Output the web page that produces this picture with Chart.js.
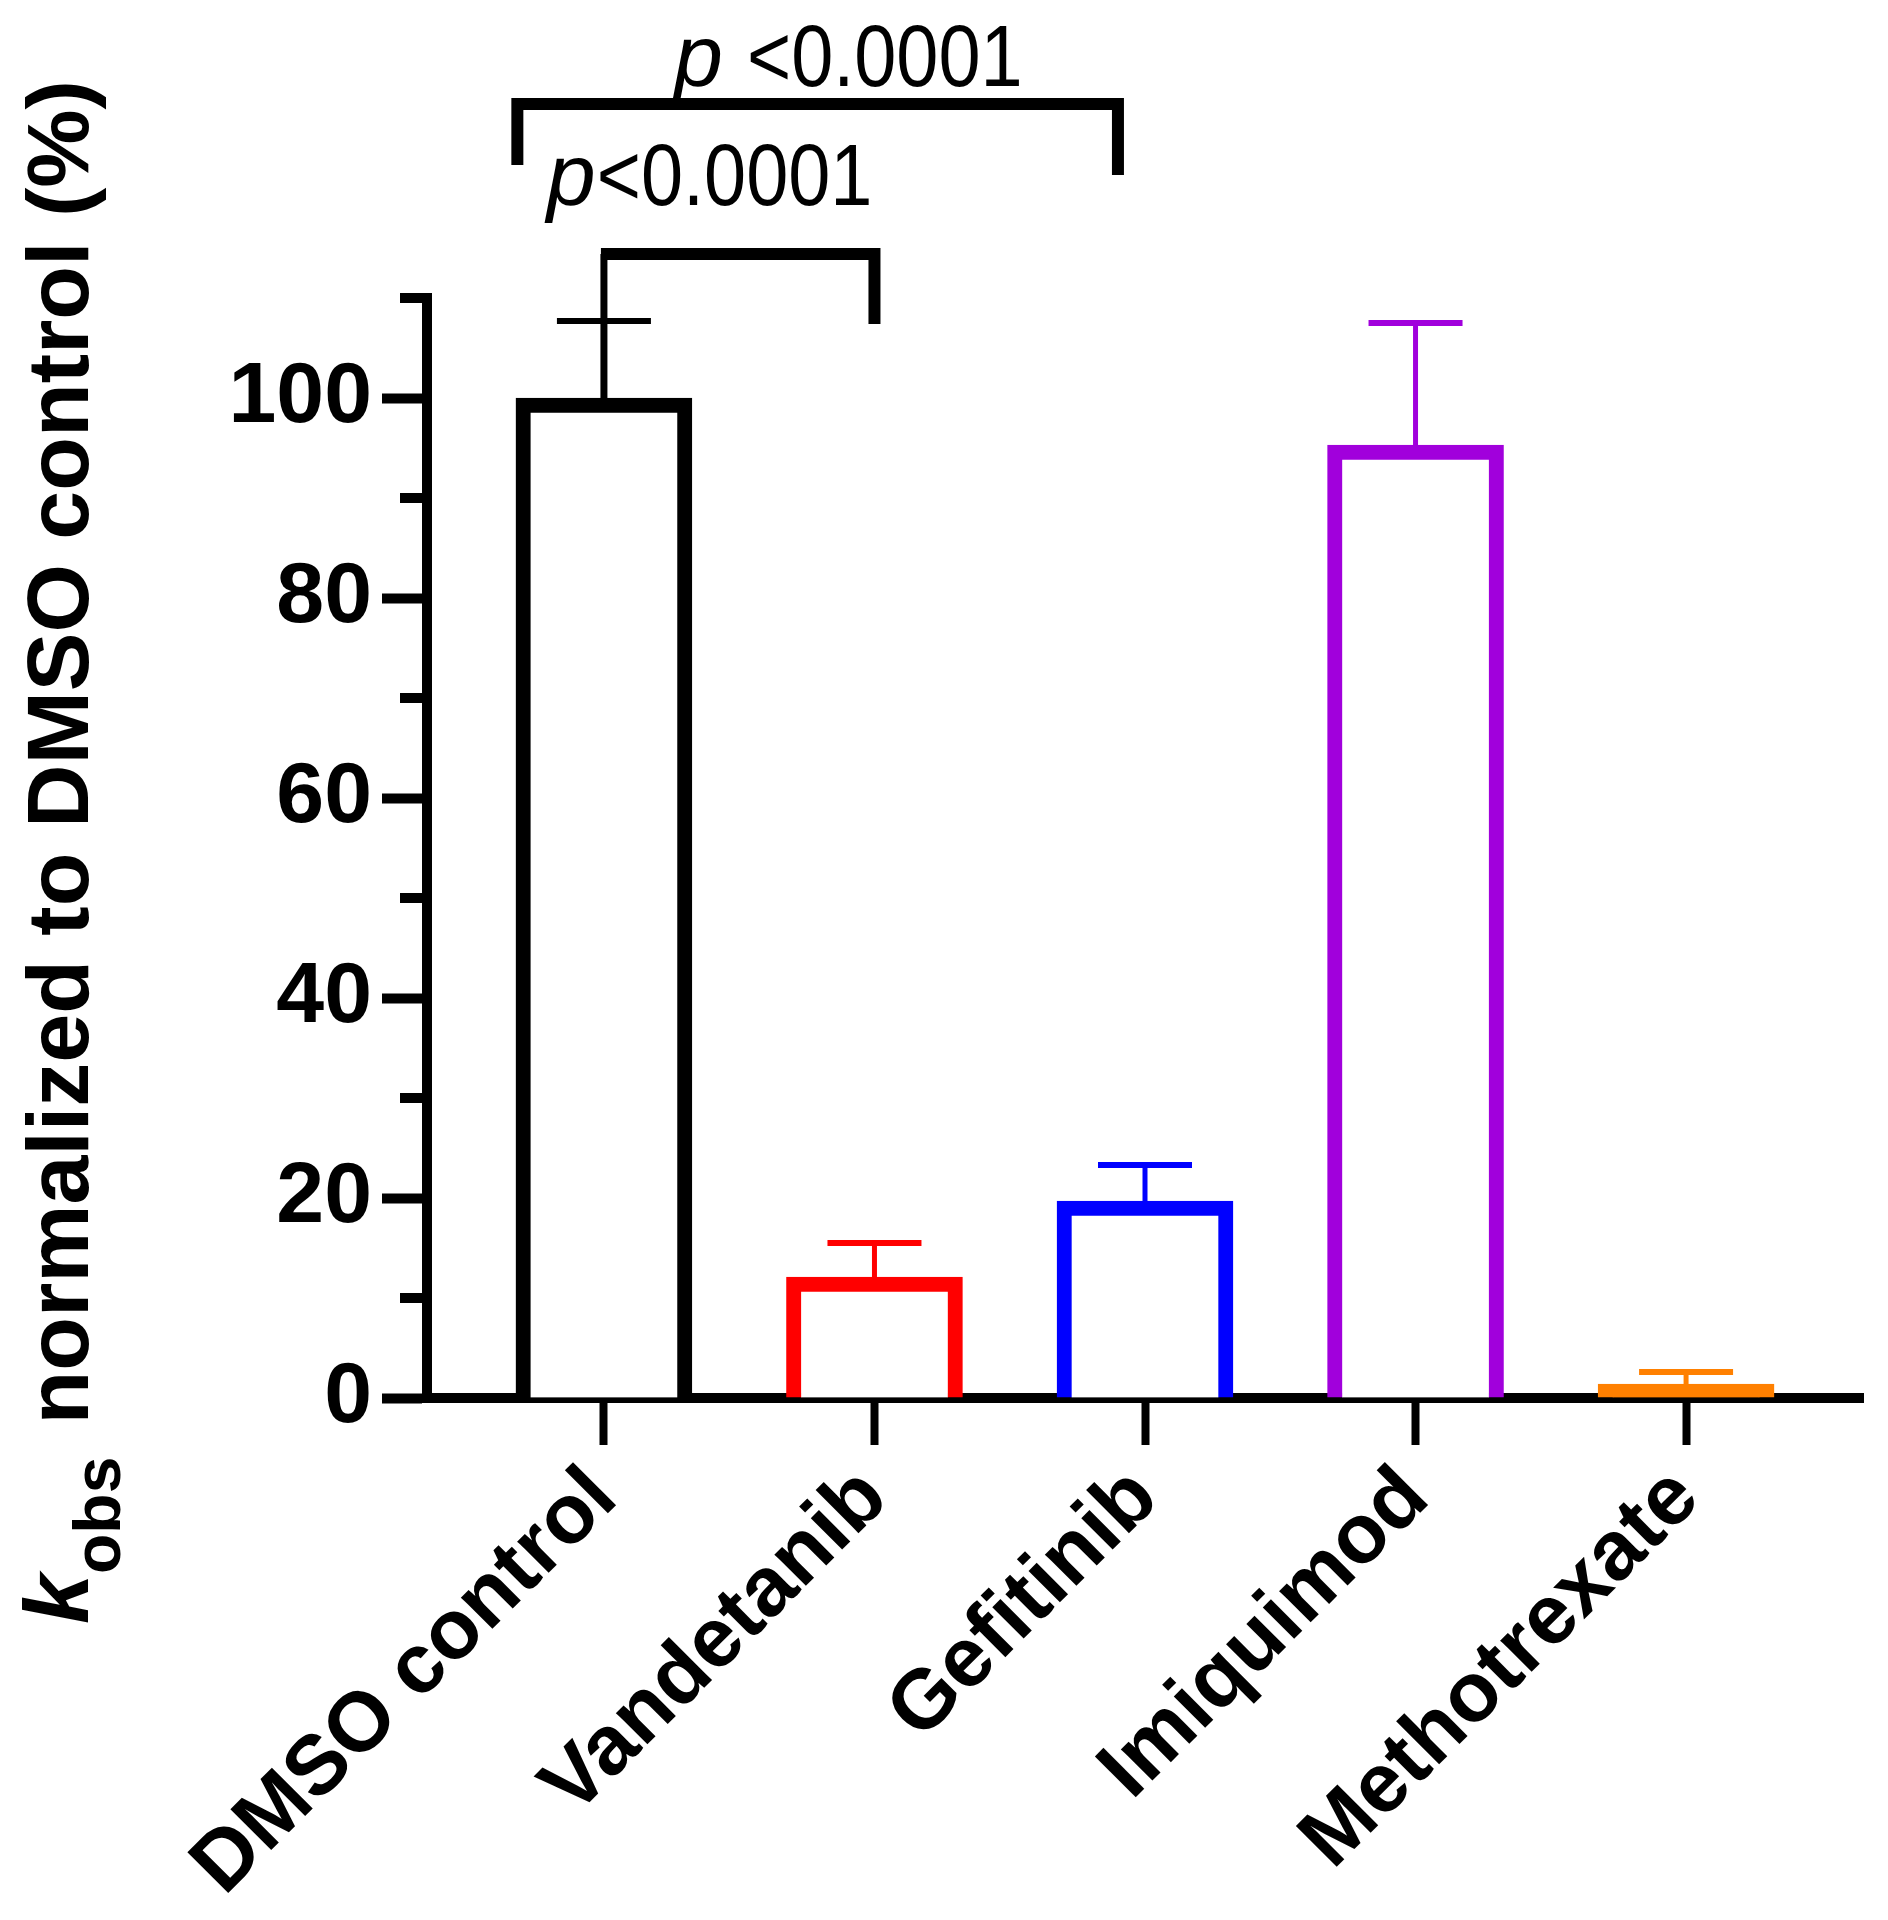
<!DOCTYPE html>
<html>
<head>
<meta charset="utf-8">
<title>kobs normalized to DMSO control</title>
<script src="https://cdn.jsdelivr.net/npm/chart.js@4.4.0/dist/chart.umd.min.js"></script>
<style>
  html, body { margin: 0; padding: 0; background: #fff; }
</style>
</head>
<body>
<canvas id="myChart" width="1888" height="1920"></canvas>
<script>
'use strict';

const categories = ["DMSO control", "Vandetanib", "Gefitinib", "Imiquimod", "Methotrexate"];
const means = [100, 12.1, 19.7, 95.3, 1.4];
const errors = [7.7, 3.4, 3.6, 12.2, 1.2];
const barColors = ["#000000", "#ff0000", "#0000ff", "#a100dc", "#ff8000"];
const yMajorTicks = [0, 20, 40, 60, 80, 100];
const yMinorTicks = [10, 30, 50, 70, 90, 110];
const pLabels = ["<0.0001", "<0.0001"];

const FONT = '"Liberation Sans", Arial, Helvetica, sans-serif';

// error bars, brackets, minor ticks and the axis title
const extrasPlugin = {
  id: 'extras',
  afterDatasetsDraw(chart) {
    const ctx = chart.ctx;
    const yScale = chart.scales.y;
    const meta = chart.getDatasetMeta(0);
    ctx.save();
    ctx.lineCap = 'butt';
    meta.data.forEach((bar, i) => {
      const top = yScale.getPixelForValue(means[i]);
      const cap = yScale.getPixelForValue(means[i] + errors[i]);
      ctx.strokeStyle = barColors[i];
      ctx.lineWidth = 5;
      ctx.beginPath();
      ctx.moveTo(bar.x, top);
      ctx.lineTo(bar.x, cap);
      ctx.stroke();
      ctx.lineWidth = 6;
      ctx.beginPath();
      ctx.moveTo(bar.x - 47, cap);
      ctx.lineTo(bar.x + 47, cap);
      ctx.stroke();
    });
    ctx.restore();
  },
  afterDraw(chart) {
    const ctx = chart.ctx;
    const x = chart.scales.x;
    const y = chart.scales.y;
    ctx.save();
    ctx.strokeStyle = '#000';
    ctx.fillStyle = '#000';

    // minor y ticks
    ctx.lineWidth = 10;
    yMinorTicks.forEach(v => {
      const py = y.getPixelForValue(v);
      ctx.beginPath();
      ctx.moveTo(y.right - 27, py);
      ctx.lineTo(y.right, py);
      ctx.stroke();
    });

    // lower bracket: DMSO vs Vandetanib
    ctx.lineWidth = 7;
    ctx.beginPath();
    ctx.moveTo(x.getPixelForValue(0), y.getPixelForValue(100));
    ctx.lineTo(x.getPixelForValue(0), y.getPixelForValue(114.4));
    ctx.stroke();
    ctx.lineWidth = 12;
    ctx.lineJoin = 'miter';
    ctx.beginPath();
    ctx.moveTo(x.getPixelForValue(0) - 3, y.getPixelForValue(114.4));
    ctx.lineTo(x.getPixelForValue(1), y.getPixelForValue(114.4));
    ctx.lineTo(x.getPixelForValue(1), y.getPixelForValue(107.4));
    ctx.stroke();

    // upper bracket: DMSO vs Gefitinib
    ctx.beginPath();
    ctx.moveTo(x.getPixelForValue(-0.32), y.getPixelForValue(123.3));
    ctx.lineTo(x.getPixelForValue(-0.32), y.getPixelForValue(129.4));
    ctx.lineTo(x.getPixelForValue(1.9), y.getPixelForValue(129.4));
    ctx.lineTo(x.getPixelForValue(1.9), y.getPixelForValue(122.3));
    ctx.stroke();

    drawP(ctx, x.getPixelForValue(-0.211), y.getPixelForValue(119.3), 1, pLabels[0]);
    drawP(ctx, x.getPixelForValue(0.259), y.getPixelForValue(131.2), 24, pLabels[1]);

    // y axis title with italic k and subscript obs
    ctx.translate(88, 1624);
    ctx.rotate(-Math.PI / 2);
    ctx.textBaseline = 'alphabetic';
    ctx.textAlign = 'left';
    let pos = 0;
    ctx.font = 'italic bold 90px ' + FONT;
    ctx.fillText('k', pos, 0);
    pos += ctx.measureText('k').width;
    ctx.font = 'bold 66px ' + FONT;
    ctx.fillText('obs', pos, 32);
    pos += ctx.measureText('obs').width + 32;
    ctx.font = 'bold 88px ' + FONT;
    ctx.fillText('normalized to DMSO control (%)', pos, 0);
    ctx.restore();
  }
};

function drawP(ctx, px, py, gap, rest) {
  ctx.save();
  ctx.textAlign = 'left';
  ctx.textBaseline = 'alphabetic';
  ctx.font = 'italic 88px ' + FONT;
  ctx.fillText('p', px, py);
  const pw = ctx.measureText('p').width;
  ctx.translate(px + pw + gap, py);
  ctx.scale(0.86, 1);
  ctx.font = '88px ' + FONT;
  ctx.fillText(rest, 0, 0);
  ctx.restore();
}

new Chart(document.getElementById('myChart'), {
  type: 'bar',
  data: {
    datasets: [{
      data: categories.map((c, i) => ({ x: i, y: means[i] })),
      backgroundColor: ["#ffffff", "#ffffff", "#ffffff", "#ffffff", "#ff8000"],
      borderColor: barColors,
      borderWidth: 15,
      borderSkipped: 'start',
      barThickness: 176
    }]
  },
  options: {
    responsive: false,
    animation: false,
    devicePixelRatio: 1,
    layout: { padding: { top: 298, right: 25, left: 0, bottom: 0 } },
    plugins: { legend: { display: false }, tooltip: { enabled: false } },
    scales: {
      x: {
        type: 'linear',
        min: -0.654,
        max: 4.654,
        offset: false,
        z: 1,
        afterBuildTicks: (scale) => { scale.ticks = categories.map((c, i) => ({ value: i })); },
        afterFit: (scale) => { scale.height = 522; },
        ticks: {
          autoSkip: false,
          minRotation: 45,
          maxRotation: 45,
          padding: 4,
          color: '#000',
          font: { family: FONT, size: 84, weight: 'bold' },
          callback: (v) => categories[v]
        },
        grid: { display: true, offset: false, drawOnChartArea: false, drawTicks: true, tickLength: 47, tickWidth: 8, tickColor: '#000' },
        border: { display: true, color: '#000', width: 10 }
      },
      y: {
        min: 0,
        max: 110,
        z: 1,
        afterBuildTicks: (scale) => { scale.ticks = yMajorTicks.map(v => ({ value: v })); },
        afterFit: (scale) => { scale.width = 427; },
        ticks: {
          padding: 10,
          color: '#000',
          font: { family: FONT, size: 86, weight: 'bold' }
        },
        grid: { display: true, drawOnChartArea: false, drawTicks: true, tickLength: 45, tickWidth: 10, tickColor: '#000' },
        border: { display: true, color: '#000', width: 10 }
      }
    }
  },
  plugins: [extrasPlugin]
});
</script>
</body>
</html>
